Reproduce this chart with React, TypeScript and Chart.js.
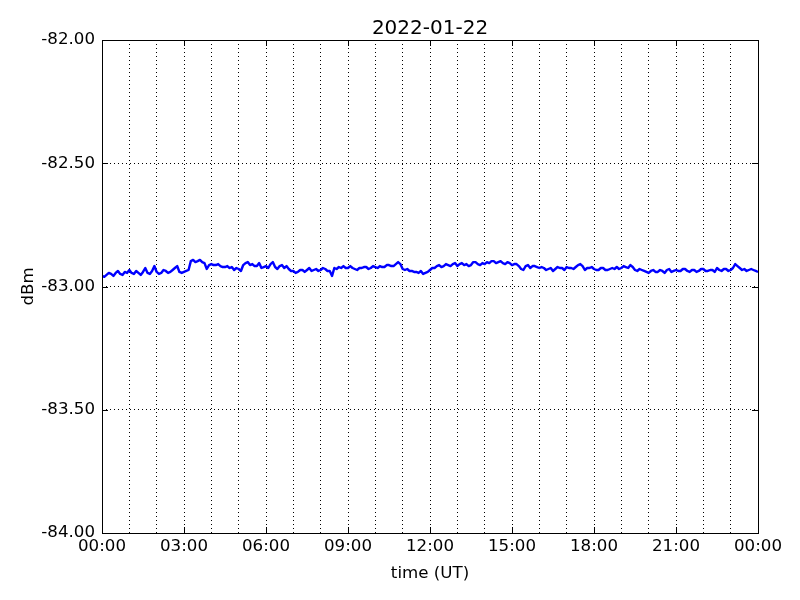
import { useEffect, useRef } from 'react';
import { Chart, registerables } from 'chart.js';

Chart.register(...registerables);

const TITLE = '2022-01-22';
const X_LABEL = 'time (UT)';
const Y_LABEL = 'dBm';
const X_TICK_LABELS = ['00:00', '03:00', '06:00', '09:00', '12:00', '15:00', '18:00', '21:00', '00:00'];
const Y_MIN = -84;
const Y_MAX = -82;
const Y_STEP = 0.5;
const STEP_MINUTES = 5;

// received signal level in dBm, one value every 5 minutes (00:00 .. 24:00)
const SIGNAL_DBM = [
  // 00h
  -82.957, -82.961, -82.953, -82.945, -82.949, -82.957, -82.945, -82.937, -82.949, -82.953, -82.941, -82.945,
  // 01h
  -82.933, -82.945, -82.949, -82.937, -82.945, -82.953, -82.941, -82.925, -82.945, -82.949, -82.937, -82.917,
  // 02h
  -82.941, -82.949, -82.945, -82.933, -82.937, -82.945, -82.941, -82.933, -82.925, -82.917, -82.941, -82.945,
  // 03h
  -82.941, -82.937, -82.933, -82.897, -82.892, -82.901, -82.897, -82.892, -82.901, -82.905, -82.929, -82.913,
  // 04h
  -82.909, -82.913, -82.913, -82.909, -82.917, -82.921, -82.921, -82.917, -82.925, -82.921, -82.933, -82.925,
  // 05h
  -82.929, -82.937, -82.913, -82.905, -82.901, -82.913, -82.909, -82.917, -82.917, -82.905, -82.925, -82.921,
  // 06h
  -82.917, -82.925, -82.909, -82.901, -82.921, -82.929, -82.917, -82.913, -82.925, -82.917, -82.929, -82.937,
  // 07h
  -82.937, -82.945, -82.941, -82.933, -82.933, -82.941, -82.933, -82.925, -82.937, -82.933, -82.929, -82.937,
  // 08h
  -82.933, -82.925, -82.929, -82.937, -82.937, -82.957, -82.925, -82.929, -82.921, -82.925, -82.917, -82.925,
  // 09h
  -82.925, -82.917, -82.925, -82.929, -82.933, -82.925, -82.925, -82.921, -82.921, -82.929, -82.925, -82.917,
  // 10h
  -82.921, -82.925, -82.917, -82.921, -82.921, -82.913, -82.913, -82.917, -82.917, -82.909, -82.901, -82.909,
  // 11h
  -82.929, -82.933, -82.929, -82.937, -82.937, -82.941, -82.941, -82.945, -82.937, -82.949, -82.945, -82.941,
  // 12h
  -82.933, -82.925, -82.925, -82.917, -82.913, -82.921, -82.917, -82.909, -82.913, -82.917, -82.909, -82.905,
  // 13h
  -82.917, -82.909, -82.905, -82.913, -82.909, -82.917, -82.913, -82.901, -82.901, -82.909, -82.913, -82.905,
  // 14h
  -82.909, -82.901, -82.905, -82.897, -82.897, -82.905, -82.901, -82.897, -82.905, -82.909, -82.901, -82.905,
  // 15h
  -82.913, -82.909, -82.909, -82.917, -82.929, -82.933, -82.917, -82.913, -82.925, -82.917, -82.917, -82.921,
  // 16h
  -82.925, -82.921, -82.925, -82.933, -82.929, -82.925, -82.937, -82.929, -82.921, -82.925, -82.925, -82.933,
  // 17h
  -82.921, -82.925, -82.925, -82.929, -82.921, -82.913, -82.909, -82.917, -82.933, -82.925, -82.925, -82.921,
  // 18h
  -82.929, -82.933, -82.933, -82.925, -82.925, -82.933, -82.933, -82.929, -82.925, -82.929, -82.921, -82.929,
  // 19h
  -82.925, -82.917, -82.921, -82.925, -82.913, -82.921, -82.933, -82.937, -82.929, -82.933, -82.937, -82.941,
  // 20h
  -82.945, -82.937, -82.933, -82.941, -82.941, -82.933, -82.937, -82.945, -82.933, -82.929, -82.941, -82.937,
  // 21h
  -82.933, -82.937, -82.937, -82.929, -82.929, -82.937, -82.941, -82.933, -82.933, -82.941, -82.937, -82.929,
  // 22h
  -82.929, -82.937, -82.937, -82.933, -82.933, -82.941, -82.925, -82.933, -82.937, -82.929, -82.929, -82.937,
  // 23h
  -82.933, -82.925, -82.909, -82.917, -82.925, -82.933, -82.929, -82.937, -82.933, -82.929, -82.933, -82.937,
  // 24:00
  -82.941,
];

const FONT_FAMILY = '"DejaVu Sans", sans-serif';
const TICK_FONT = { family: FONT_FAMILY, size: 16.67 };

const framePlugin = {
  id: 'mplFrame',
  afterDraw(chart: any) {
    const { ctx, chartArea } = chart;
    const { left, right, top, bottom } = chartArea;
    const xs = chart.scales.x;
    const ys = chart.scales.y;
    ctx.save();
    ctx.setLineDash([]);
    ctx.strokeStyle = '#000';
    ctx.lineWidth = 1;
    // inward major ticks
    ctx.beginPath();
    for (let i = 0; i < X_TICK_LABELS.length; i++) {
      const px = Math.round(xs.getPixelForValue(i * 3)) + 0.5;
      ctx.moveTo(px, bottom);
      ctx.lineTo(px, bottom - 6);
      ctx.moveTo(px, top);
      ctx.lineTo(px, top + 6);
    }
    for (let v = Y_MIN; v <= Y_MAX + 1e-9; v += Y_STEP) {
      const py = Math.round(ys.getPixelForValue(v)) + 0.5;
      ctx.moveTo(left, py);
      ctx.lineTo(left + 6, py);
      ctx.moveTo(right, py);
      ctx.lineTo(right - 6, py);
    }
    ctx.stroke();
    // frame
    ctx.strokeRect(Math.round(left) + 0.5, Math.round(top) + 0.5, Math.round(right - left), Math.round(bottom - top));
    // texts
    ctx.fillStyle = '#000';
    ctx.textAlign = 'center';
    ctx.textBaseline = 'alphabetic';
    ctx.font = `20px ${FONT_FAMILY}`;
    ctx.fillText(TITLE, (left + right) / 2, 34);
    ctx.font = `16.67px ${FONT_FAMILY}`;
    ctx.fillText(X_LABEL, (left + right) / 2, 578);
    ctx.translate(33, (top + bottom) / 2);
    ctx.rotate(-Math.PI / 2);
    ctx.fillText(Y_LABEL, 0, 0);
    ctx.restore();
  },
};

export default function App() {
  const canvasRef = useRef<HTMLCanvasElement | null>(null);

  useEffect(() => {
    if (!canvasRef.current) return;
    const points = SIGNAL_DBM.map((v, i) => ({ x: (i * STEP_MINUTES) / 60, y: v }));
    const chart = new Chart(canvasRef.current, {
      type: 'line',
      data: {
        datasets: [
          {
            data: points,
            borderColor: '#0000ff',
            borderWidth: 2.4,
            borderJoinStyle: 'round',
            pointRadius: 0,
            tension: 0,
            fill: false,
          },
        ],
      },
      options: {
        animation: false,
        responsive: true,
        maintainAspectRatio: false,
        layout: { padding: { top: 40, right: 42, left: 0, bottom: 0 } },
        plugins: {
          legend: { display: false },
          tooltip: { enabled: false },
          title: { display: false },
        },
        scales: {
          x: {
            type: 'linear',
            min: 0,
            max: 24,
            afterFit: (s: any) => {
              s.height = 67;
            },
            border: { display: false, dash: [1, 3] },
            grid: { color: '#000', lineWidth: 1, drawTicks: false },
            ticks: {
              stepSize: 1,
              autoSkip: false,
              maxRotation: 0,
              padding: 4,
              color: '#000',
              font: TICK_FONT,
              callback: (v: any) => (Number(v) % 3 === 0 ? X_TICK_LABELS[Number(v) / 3] : ''),
            },
          },
          y: {
            type: 'linear',
            min: Y_MIN,
            max: Y_MAX,
            afterFit: (s: any) => {
              s.width = 102;
            },
            border: { display: false, dash: [1, 3] },
            grid: { color: '#000', lineWidth: 1, drawTicks: false },
            ticks: {
              stepSize: Y_STEP,
              padding: 7,
              color: '#000',
              font: TICK_FONT,
              callback: (v: any) => Number(v).toFixed(2),
            },
          },
        },
      },
      plugins: [framePlugin],
    });
    return () => chart.destroy();
  }, []);

  return (
    <div style={{ position: 'absolute', left: 0, top: 0, width: 800, height: 600, background: '#fff' }}>
      <canvas ref={canvasRef} />
    </div>
  );
}
